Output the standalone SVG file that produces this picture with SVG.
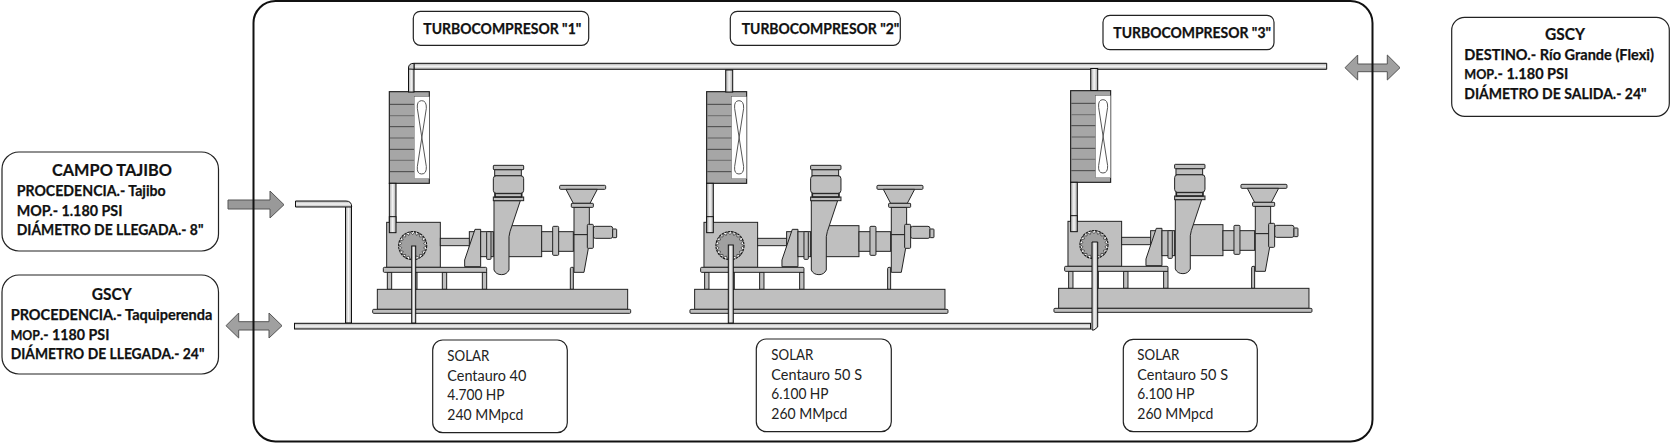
<svg xmlns="http://www.w3.org/2000/svg" xmlns:xlink="http://www.w3.org/1999/xlink" width="1676" height="445" viewBox="0 0 1676 445">
<style>
.box{fill:#fff;stroke:#222;stroke-width:1.2}
.b{font-family:"Lato","Liberation Sans",sans-serif;font-weight:700;fill:#111;stroke:#111;stroke-width:.25;font-size:15px}
.h{font-family:"Lato","Liberation Sans",sans-serif;font-weight:700;fill:#111;stroke:#111;stroke-width:.2;font-size:17.500px;text-anchor:middle}
.r{font-family:"Lato","Liberation Sans",sans-serif;font-weight:400;fill:#222;font-size:14.500px}
.m{fill:#bfbfbf;stroke:#222;stroke-width:3}
.d{fill:#a6a6a6;stroke:#222;stroke-width:3.500}
.arrow{fill:#a0a0a0;stroke:#555;stroke-width:1}
.pv{fill:url(#pv);stroke:#111;stroke-width:1}
.ph{fill:url(#ph);stroke:#111;stroke-width:1}
</style>
<defs>
<linearGradient id="pv" x1="0" y1="0" x2="1" y2="0"><stop offset="0" stop-color="#aaa"/><stop offset=".5" stop-color="#f5f5f5"/><stop offset="1" stop-color="#aaa"/></linearGradient>
<linearGradient id="ph" x1="0" y1="0" x2="0" y2="1"><stop offset="0" stop-color="#aaa"/><stop offset=".5" stop-color="#f5f5f5"/><stop offset="1" stop-color="#aaa"/></linearGradient>
<g id="machine">
<rect class="d" x="88" y="125" width="120" height="275"/>
<path d="M90 163H163M90 230H163M90 298H163M90 365H163" stroke="#333" stroke-width="2.500" fill="none"/>
<path d="M90 197H163M90 264H163M90 331H163" stroke="#777" stroke-width="4" fill="none"/>
<rect x="163" y="140" width="45" height="246" fill="#fff" stroke="#444" stroke-width="1"/>
<path d="M172 175Q170 152 185 152Q200 152 199 175L172 350Q170 372 185 372Q200 372 199 350Z" fill="#fff" stroke="#555" stroke-width="3"/>
<rect class="pv" x="88" y="400" width="20" height="148" style="stroke-width:3"/>
<rect class="m" x="80" y="517" width="161" height="135"/>
<rect class="pv" x="88" y="500" width="20" height="48" style="stroke-width:3"/>
<circle cx="158" cy="587" r="42" fill="#fff" stroke="#111" stroke-width="3.500" stroke-dasharray="8 2"/>
<polygon transform="translate(158 587)" fill="#a0a0a0" stroke="#222" stroke-width="2" points="42,0 33,6 39.500,14.400 28.400,17 32.200,27 21,26.200 21,36.400 11,31 7.300,41.400 0,33 -7.300,41.400 -11,31 -21,36.400 -21,26.200 -32.200,27 -28.400,17 -39.500,14.400 -33,6 -42,0 -33,-6 -39.500,-14.400 -28.400,-17 -32.200,-27 -21,-26.200 -21,-36.400 -11,-31 -7.300,-41.400 0,-33 7.300,-41.400 11,-31 21,-36.400 21,-26.200 32.200,-27 28.400,-17 39.500,-14.400 33,-6"/>
<rect class="m" x="82" y="667" width="13" height="51"/>
<rect class="m" x="165" y="667" width="6" height="51"/>
<rect class="m" x="247" y="667" width="13" height="51"/>
<rect class="m" x="367" y="667" width="13" height="51"/>
<rect class="m" x="70" y="652" width="310" height="15" rx="3"/>
<path class="m" d="M631 718V656Q631 652 635 652H640V718Z"/>
<rect class="m" x="52" y="718" width="751" height="60"/>
<rect class="m" x="38" y="778" width="774" height="12" rx="3"/>
<rect class="m" x="241" y="565" width="89" height="22"/>
<rect class="m" x="328" y="545" width="18" height="85"/>
<path class="m" d="M345 538H362V650H314V630Z"/>
<rect class="m" x="362" y="545" width="38" height="75"/>
<rect class="m" x="380" y="545" width="13" height="83" rx="2"/>
<rect class="m" x="445" y="527" width="100" height="93"/>
<path class="m" d="M402 452H481L450 545L447 560V660Q440 674 425 674Q408 674 402 660Z"/>
<rect class="m" x="400" y="441" width="91" height="11"/>
<rect class="m" x="405" y="430" width="80" height="11" style="stroke-width:5"/>
<rect class="m" x="400" y="377" width="91" height="53" rx="9"/>
<rect class="m" x="404" y="359" width="80" height="18"/>
<rect class="m" x="400" y="346" width="91" height="13" rx="2"/>
<rect class="m" x="545" y="545" width="95" height="59"/>
<rect class="m" x="578" y="529" width="18" height="87" rx="3"/>
<rect class="m" x="599" y="406" width="138" height="12" rx="3"/>
<path class="m" d="M618 418H712L690 460H640Z"/>
<rect class="m" x="642" y="472" width="46" height="82"/>
<path class="m" d="M642 554H700L685 595L672 667H642Z"/>
<rect class="m" x="634" y="460" width="66" height="12" rx="2"/>
<rect class="m" x="700" y="529" width="58" height="36" rx="6"/>
<rect class="m" x="758" y="537" width="12" height="26" rx="2"/>
<rect class="m" x="682" y="523" width="18" height="72" rx="3"/>
</g>
</defs>
<rect width="1676" height="445" fill="#fff"/>
<g id="arrows">
<polygon class="arrow" style="fill:#999" points="228,200 270,200 270,191 284,204.700 270,218 270,209 228,209"/>
<polygon class="arrow" points="226,325.700 238.700,313 238.700,321.700 269,321.700 269,313 282,325.700 269,338 269,330 238.700,330 238.700,338"/>
<polygon class="arrow" points="1345,67.700 1357.700,55 1357.700,64 1387.300,64 1387.300,55 1400,67.700 1387.300,80 1387.300,71.700 1357.700,71.700 1357.700,80"/>
</g>
<rect id="frame" x="253.500" y="1" width="1119" height="440.500" rx="22" fill="none" stroke="#111" stroke-width="2"/>
<g id="turbo1"><use href="#machine" transform="translate(360 50) scale(.33333)"/></g>
<g id="turbo2"><use href="#machine" transform="translate(677.300 50) scale(.33333)"/></g>
<g id="turbo3"><use href="#machine" transform="translate(1041.300 49) scale(.33333)"/></g>
<g id="connectors">
<path class="pv" d="M345.500 206H351.500V323H345.500Z"/>
<path class="ph" d="M295.500 201H346Q351.700 201 351.700 207H295.500Z"/>
<rect class="pv" x="408.500" y="68" width="5.500" height="24"/>
<path class="ph" d="M414 63.300H1326.700V69.300H414Z"/>
<path d="M408.500 69V68Q408.500 63.300 414 63.300V69.300Z" fill="#ccc" stroke="#111" stroke-width="1"/>
<rect class="pv" x="725.700" y="70" width="7" height="22"/>
<rect class="pv" x="1090.700" y="68.500" width="7" height="22"/>
<rect class="ph" x="294.500" y="323.300" width="796" height="5.700"/>
<rect class="pv" x="411.700" y="246" width="4" height="77"/>
<rect class="pv" x="728.300" y="245" width="5" height="78"/>
<path class="pv" d="M1092 242H1097.700V327L1094 330H1092Z"/>
</g>
<g id="tc1"><rect class="box" x="413.300" y="11.300" width="175.400" height="34" rx="7"/><text class="b" x="423.300" y="33.700" textLength="158" lengthAdjust="spacingAndGlyphs">TURBOCOMPRESOR "1"</text></g>
<g id="tc2"><rect class="box" x="730.300" y="11.300" width="170" height="34" rx="7"/><text class="b" x="741.700" y="33.700" textLength="157.600" lengthAdjust="spacingAndGlyphs">TURBOCOMPRESOR "2"</text></g>
<g id="tc3"><rect class="box" x="1103" y="15.300" width="171" height="34.400" rx="7"/><text class="b" x="1113.300" y="38.300" textLength="157.700" lengthAdjust="spacingAndGlyphs">TURBOCOMPRESOR "3"</text></g>
<g id="campo-tajibo"><rect class="box" x="2" y="152" width="216.500" height="99" rx="17"/>
<text class="h" x="112" y="175.700" textLength="120" lengthAdjust="spacingAndGlyphs">CAMPO TAJIBO</text>
<text class="b" x="16.700" y="196" textLength="149" lengthAdjust="spacingAndGlyphs">PROCEDENCIA.- Tajibo</text>
<text class="b" x="16.700" y="216" textLength="105.700" lengthAdjust="spacingAndGlyphs">MOP.- 1.180 PSI</text>
<text class="b" x="16.700" y="235.300" textLength="186.700" lengthAdjust="spacingAndGlyphs">DIÁMETRO DE LLEGADA.- 8"</text></g>
<g id="gscy-in"><rect class="box" x="2" y="275" width="216.500" height="99" rx="17"/>
<text class="h" x="111.700" y="300" textLength="40" lengthAdjust="spacingAndGlyphs">GSCY</text>
<text class="b" x="10.700" y="320" textLength="201.700" lengthAdjust="spacingAndGlyphs">PROCEDENCIA.- Taquiperenda</text>
<text class="b" x="10.700" y="340" textLength="98.700" lengthAdjust="spacingAndGlyphs"><tspan font-size="13">MOP</tspan>.- 1180 PSI</text>
<text class="b" x="10.700" y="359.300" textLength="193.700" lengthAdjust="spacingAndGlyphs">DIÁMETRO DE LLEGADA.- 24"</text></g>
<g id="gscy-out"><rect class="box" x="1451.700" y="17.300" width="217.600" height="99" rx="13"/>
<text class="h" x="1565" y="40" textLength="40" lengthAdjust="spacingAndGlyphs">GSCY</text>
<text class="b" x="1464.300" y="60" textLength="189.700" lengthAdjust="spacingAndGlyphs">DESTINO.- Río Grande (Flexi)</text>
<text class="b" x="1464.300" y="79.300" textLength="104" lengthAdjust="spacingAndGlyphs"><tspan font-size="13">MOP</tspan>.- 1.180  PSI</text>
<text class="b" x="1464.300" y="98.700" textLength="182.300" lengthAdjust="spacingAndGlyphs">DIÁMETRO DE SALIDA.- 24"</text></g>
<g id="solar1"><rect class="box" x="432.700" y="340" width="134.600" height="92.700" rx="10"/>
<text class="r" x="447.300" y="360.700" textLength="42" lengthAdjust="spacingAndGlyphs">SOLAR</text><text class="r" x="447.300" y="381" textLength="79" lengthAdjust="spacingAndGlyphs">Centauro 40</text><text class="r" x="447.300" y="400" textLength="57.300" lengthAdjust="spacingAndGlyphs">4.700 HP</text><text class="r" x="447.300" y="420" textLength="76" lengthAdjust="spacingAndGlyphs">240 MMpcd</text></g>
<g id="solar2"><rect class="box" x="756.300" y="339" width="135" height="92.700" rx="10"/>
<text class="r" x="771.300" y="360" textLength="42" lengthAdjust="spacingAndGlyphs">SOLAR</text><text class="r" x="771.300" y="380" textLength="90.700" lengthAdjust="spacingAndGlyphs">Centauro 50 S</text><text class="r" x="771.300" y="398.700" textLength="57.300" lengthAdjust="spacingAndGlyphs">6.100 HP</text><text class="r" x="771.300" y="418.700" textLength="76" lengthAdjust="spacingAndGlyphs">260 MMpcd</text></g>
<g id="solar3"><rect class="box" x="1123.300" y="339.300" width="134" height="92.400" rx="10"/>
<text class="r" x="1137.300" y="360" textLength="42" lengthAdjust="spacingAndGlyphs">SOLAR</text><text class="r" x="1137.300" y="380" textLength="90.700" lengthAdjust="spacingAndGlyphs">Centauro 50 S</text><text class="r" x="1137.300" y="399" textLength="57.300" lengthAdjust="spacingAndGlyphs">6.100 HP</text><text class="r" x="1137.300" y="419" textLength="76" lengthAdjust="spacingAndGlyphs">260 MMpcd</text></g>
</svg>
